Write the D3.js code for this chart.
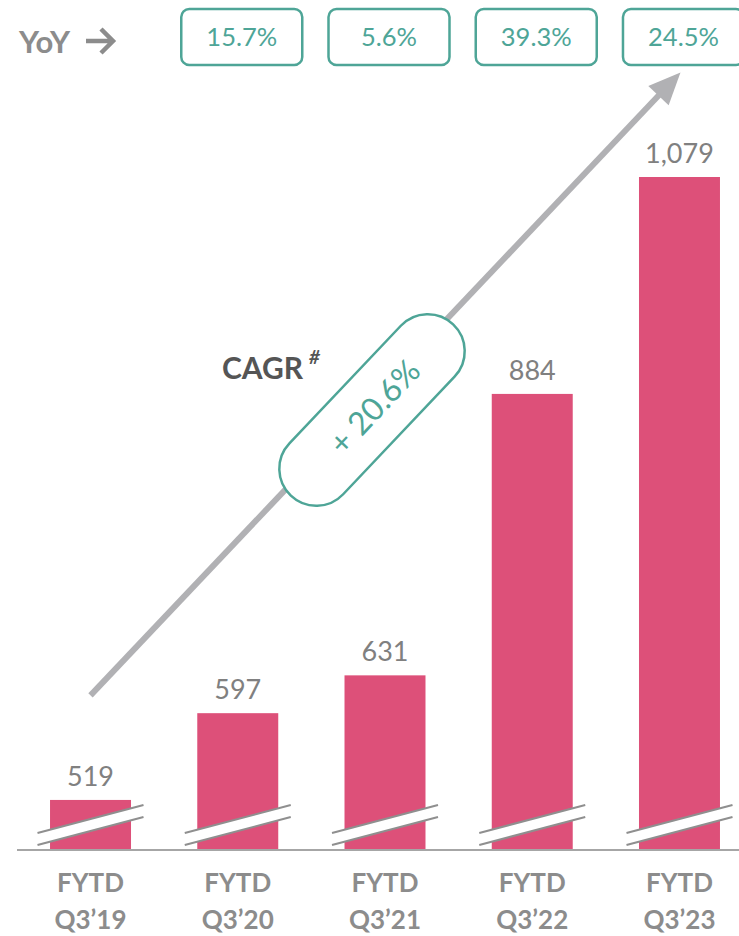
<!DOCTYPE html>
<html>
<head>
<script src="https://d3js.org/d3.v7.min.js"></script>
<style>
    body { margin: 0; background: #fff; }
    svg { display: block; font-family: Lato, "Open Sans", sans-serif; }
</style>
</head>
<body>
<script>
    // data
    var periods = ['FYTD\nQ3\u201919', 'FYTD\nQ3\u201920', 'FYTD\nQ3\u201921', 'FYTD\nQ3\u201922', 'FYTD\nQ3\u201923'];
    var values = [519, 597, 631, 884, 1079];
    var yoy = ['15.7%', '5.6%', '39.3%', '24.5%'];
    var cagr = '+ 20.6%';

    var width = 739, height = 936;
    var baseY = 850;
    var pink = '#dd5079', teal = '#4ea597', grey = '#8c8c8c';

    var svg = d3.select('body').append('svg')
        .attr('width', width)
        .attr('height', height);

    var x = d3.scaleBand()
        .domain(periods)
        .range([16.9, 753.1])
        .paddingInner(0.45)
        .paddingOuter(0.225);

    // broken axis, so the domain does not start at zero
    var y = d3.scaleLinear()
        .domain([474, 1079])
        .range([baseY, 177]);

    var cx = d => x(d) + x.bandwidth() / 2;

    // bars
    svg.selectAll('.bar')
        .data(periods)
        .enter()
        .append('rect')
        .attr('class', 'bar')
        .attr('x', d => x(d))
        .attr('y', (d, i) => y(values[i]))
        .attr('width', x.bandwidth())
        .attr('height', (d, i) => baseY - y(values[i]))
        .style('fill', pink);

    // value labels
    svg.selectAll('.val')
        .data(periods)
        .enter()
        .append('text')
        .attr('x', cx)
        .attr('y', (d, i) => y(values[i]) - 14)
        .attr('text-anchor', 'middle')
        .style('font-size', '27px')
        .style('fill', '#808080')
        .text((d, i) => d3.format(',')(values[i]));

    // break marks
    var brk = svg.selectAll('.brk')
        .data(periods)
        .enter()
        .append('g')
        .attr('transform', d => 'translate(' + cx(d) + ',0)');
    brk.append('path')
        .attr('d', 'M-53,833 L53,805 L53,817 L-53,845 Z')
        .style('fill', '#fff');
    brk.append('line')
        .attr('x1', -53).attr('y1', 833).attr('x2', 53).attr('y2', 805)
        .style('stroke', '#8f8f8f').style('stroke-width', 2);
    brk.append('line')
        .attr('x1', -53).attr('y1', 845).attr('x2', 53).attr('y2', 817)
        .style('stroke', '#8f8f8f').style('stroke-width', 2);

    // axis line
    svg.append('line')
        .attr('x1', 17).attr('x2', width)
        .attr('y1', baseY).attr('y2', baseY)
        .style('stroke', '#a6a6a6')
        .style('stroke-width', 2);

    // category labels
    var lab = svg.selectAll('.lab')
        .data(periods)
        .enter()
        .append('text')
        .attr('text-anchor', 'middle')
        .style('font-size', '26px')
        .style('font-weight', 'bold')
        .style('fill', grey);
    lab.selectAll('tspan')
        .data(d => d.split('\n').map(t => ({ t: t, c: cx(d) })))
        .enter()
        .append('tspan')
        .attr('x', d => d.c)
        .attr('y', (d, i) => 892 + i * 37)
        .text(d => d.t);

    // trend arrow
    var a0 = [cx(periods[0]), y(613)];
    var a1 = [cx(periods[4]) + 1, y(1173)];
    var ang = Math.atan2(a1[1] - a0[1], a1[0] - a0[0]);
    var hl = 32, hw = 14;
    svg.append('line')
        .attr('x1', a0[0]).attr('y1', a0[1])
        .attr('x2', a1[0] - hl * 0.8 * Math.cos(ang)).attr('y2', a1[1] - hl * 0.8 * Math.sin(ang))
        .style('stroke', '#b1b1b4')
        .style('stroke-width', 6);
    var bx = a1[0] - hl * Math.cos(ang), by = a1[1] - hl * Math.sin(ang);
    svg.append('path')
        .attr('d', 'M' + a1[0] + ',' + a1[1] +
            'L' + (bx + hw * Math.sin(ang)) + ',' + (by - hw * Math.cos(ang)) +
            'L' + (bx - hw * Math.sin(ang)) + ',' + (by + hw * Math.cos(ang)) + 'Z')
        .style('fill', '#b1b1b4');

    // CAGR pill
    var deg = ang * 180 / Math.PI;
    var pill = svg.append('g')
        .attr('transform', 'translate(372,410) rotate(' + deg + ')');
    pill.append('rect')
        .attr('x', -118).attr('y', -37)
        .attr('width', 236).attr('height', 74)
        .attr('rx', 37)
        .style('fill', '#fff')
        .style('stroke', teal)
        .style('stroke-width', 2.5);
    pill.append('text')
        .attr('x', 4).attr('y', 11)
        .attr('text-anchor', 'middle')
        .style('font-size', '32px')
        .style('fill', teal)
        .text(cagr);

    svg.append('text')
        .attr('x', 222).attr('y', 379)
        .style('font-size', '30px')
        .style('font-weight', 'bold')
        .style('fill', '#555')
        .text('CAGR');
    svg.append('text')
        .attr('x', 309).attr('y', 364)
        .style('font-size', '19px')
        .style('font-weight', 'bold')
        .style('font-style', 'italic')
        .style('fill', '#555')
        .text('#');

    // YoY row
    svg.append('text')
        .attr('x', 19).attr('y', 53)
        .style('font-size', '31px')
        .style('font-weight', 'bold')
        .style('fill', grey)
        .text('YoY');
    svg.append('path')
        .attr('d', 'M86,41 L112,41 M101,29 L113,41 L101,53')
        .style('fill', 'none')
        .style('stroke', grey)
        .style('stroke-width', 4.5);

    var boxes = svg.selectAll('.yoy')
        .data(yoy)
        .enter()
        .append('g')
        .attr('transform', (d, i) => 'translate(' + (cx(periods[i + 1]) + 4) + ',37)');
    boxes.append('rect')
        .attr('x', -60.5).attr('y', -28)
        .attr('width', 121).attr('height', 56)
        .attr('rx', 8)
        .style('fill', '#fff')
        .style('stroke', teal)
        .style('stroke-width', 2.5);
    boxes.append('text')
        .attr('y', 9)
        .attr('text-anchor', 'middle')
        .style('font-size', '25.5px')
        .style('fill', teal)
        .text(d => d);
</script>
</body>
</html>
